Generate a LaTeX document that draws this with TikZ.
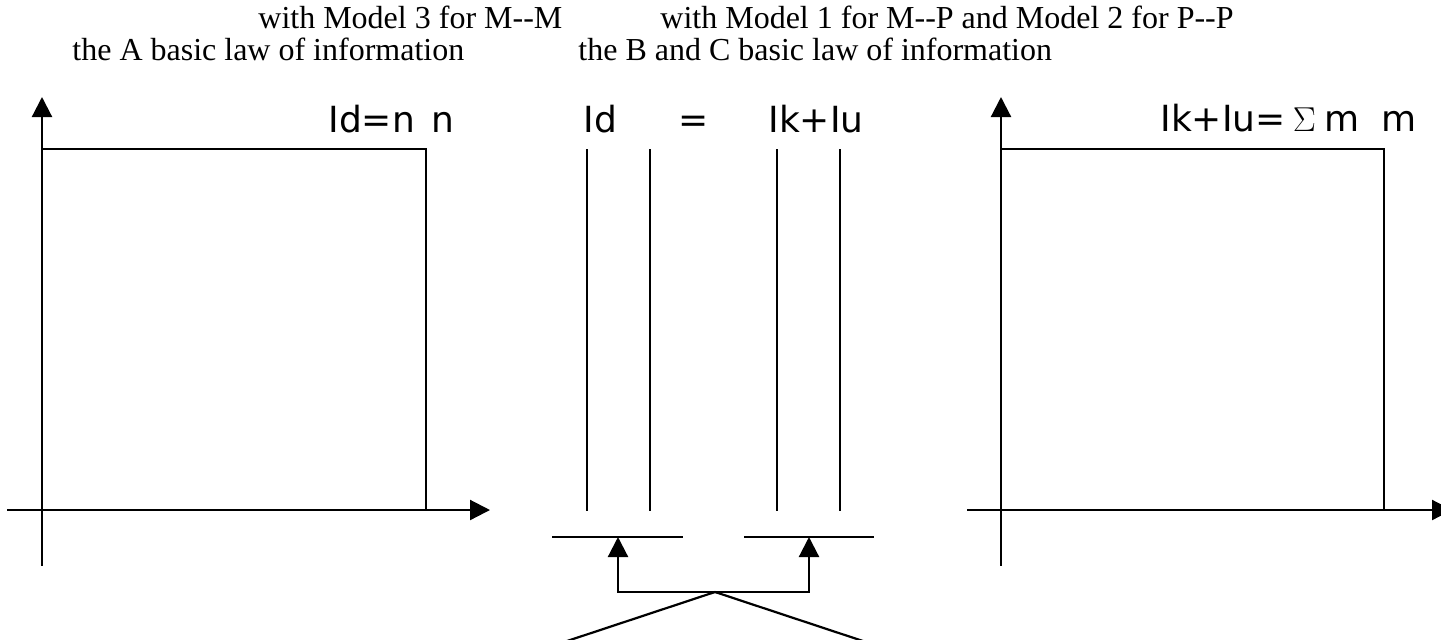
\documentclass[tikz,border=0pt]{standalone}
\usepackage{fontspec}
\newfontfamily\serf{Liberation Serif}
\newfontfamily\sanf{DejaVu Sans}
\usetikzlibrary{arrows.meta}
\begin{document}
\begin{tikzpicture}[x=0.5pt,y=-0.5pt,
  ln/.style={line width=1.1pt, line cap=rect},
  arr/.style={ln, -{Triangle[length=10pt,width=10pt]}},
  ttl/.style={font=\serf\fontsize{16pt}{19pt}\selectfont, anchor=base west, inner sep=0pt},
  lab/.style={font=\sanf\fontsize{18pt}{20pt}\selectfont, anchor=base west, inner sep=0pt}]
\useasboundingbox (0,0) rectangle (1441,639);
% titles
\node[ttl] (t1) at (258,28) {with Model 3 for M--M};
\node[ttl] (t2) at (660,28) {with Model 1 for M--P and Model 2 for P--P};
\node[ttl] (t3) at (72,60) {the A basic law of information};
\node[ttl] (t4) at (578,60) {the B and C basic law of information};
% left graph
\coordinate (lyb) at (42,565);
\coordinate (lyt) at (42,97);
\coordinate (lxl) at (8,510);
\coordinate (lxr) at (490,510);
\draw[arr] (lyb) -- (lyt);
\draw[arr] (lxl) -- (lxr);
\coordinate (lb1) at (42,149);
\coordinate (lb2) at (426,149);
\coordinate (lb3) at (426,510);
\draw[ln] (lb1) -- (lb2) -- (lb3);
\node[lab] (la) at (328,132) {Id=n\hspace{0.45em}n};
% right graph
\coordinate (ryb) at (1001,565);
\coordinate (ryt) at (1001,97);
\coordinate (rxl) at (968,510);
\coordinate (rxr) at (1452,510);
\draw[arr] (ryb) -- (ryt);
\draw[arr] (rxl) -- (rxr);
\coordinate (rb1) at (1001,149);
\coordinate (rb2) at (1384,149);
\coordinate (rb3) at (1384,510);
\draw[ln] (rb1) -- (rb2) -- (rb3);
\node[lab] (ra) at (1160,131) {Ik+Iu=\hspace{0.2em}$\Sigma$\hspace{0.25em}m\hspace{0.6em}m};
% middle
\node[lab] (mid) at (583,132) {Id};
\node[lab] (meq) at (678,132) {=};
\node[lab] (mku) at (768,132) {Ik+Iu};
\foreach \x/\n in {587/a,650/b,777/c,840/d}{
  \coordinate (v\n1) at (\x,150);
  \coordinate (v\n2) at (\x,510);
  \draw[ln] (v\n1) -- (v\n2);
}
\coordinate (h1a) at (553,537); \coordinate (h1b) at (682,537);
\coordinate (h2a) at (745,537); \coordinate (h2b) at (873,537);
\draw[ln] (h1a) -- (h1b);
\draw[ln] (h2a) -- (h2b);
\coordinate (p1) at (618,592); \coordinate (t1a) at (618,537);
\coordinate (p2) at (809,592); \coordinate (t2a) at (809,537);
\coordinate (apex) at (715,592);
\draw[arr] (p1) -- (t1a);
\draw[arr] (p2) -- (t2a);
\draw[ln] (p1) -- (p2);
\coordinate (fl) at (555,645);
\coordinate (fr) at (875,645);
\draw[ln] (fl) -- (apex) -- (fr);
\end{tikzpicture}
\end{document}
